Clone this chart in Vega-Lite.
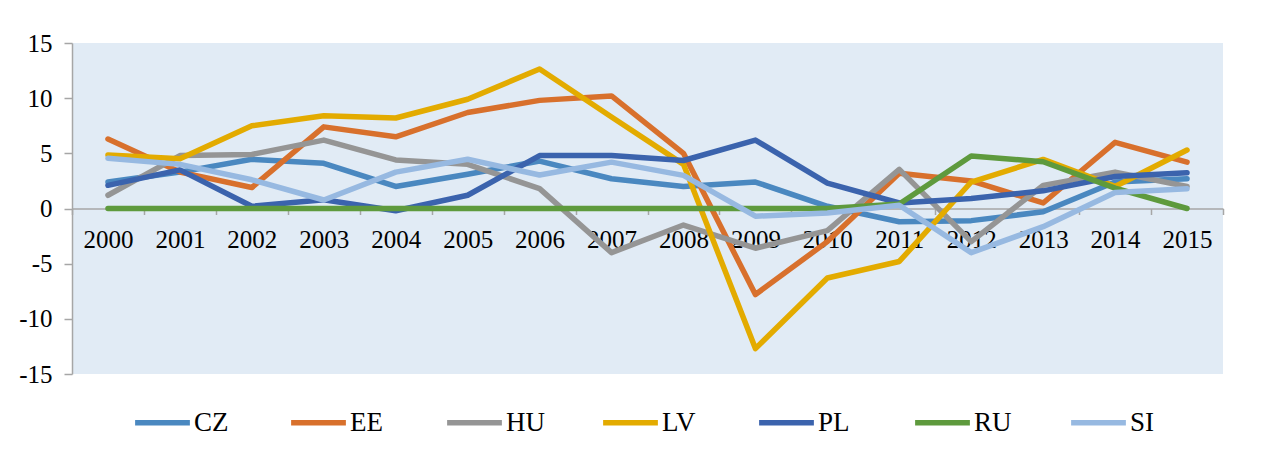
{
  "$schema": "https://vega.github.io/schema/vega-lite/v6.json",
  "autosize": {"type": "none"},
  "width": 1151,
  "height": 331,
  "padding": {"left": 72, "top": 43, "right": 51, "bottom": 87},
  "background": "white",
  "config": {
    "view": {"fill": "#E1EBF5", "stroke": null},
    "font": "Liberation Serif"
  },
  "data": {"values": [
    {"year":"2000","c":"CZ","v":2.4},{"year":"2001","c":"CZ","v":3.3},{"year":"2002","c":"CZ","v":4.46},{"year":"2003","c":"CZ","v":4.1},{"year":"2004","c":"CZ","v":2.0},{"year":"2005","c":"CZ","v":3.1},{"year":"2006","c":"CZ","v":4.3},{"year":"2007","c":"CZ","v":2.7},{"year":"2008","c":"CZ","v":2.0},{"year":"2009","c":"CZ","v":2.4},{"year":"2010","c":"CZ","v":0.2},{"year":"2011","c":"CZ","v":-1.2},{"year":"2012","c":"CZ","v":-1.1},{"year":"2013","c":"CZ","v":-0.3},{"year":"2014","c":"CZ","v":2.4},{"year":"2015","c":"CZ","v":2.7},
    {"year":"2000","c":"EE","v":6.3},{"year":"2001","c":"EE","v":3.3},{"year":"2002","c":"EE","v":1.9},{"year":"2003","c":"EE","v":7.4},{"year":"2004","c":"EE","v":6.5},{"year":"2005","c":"EE","v":8.7},{"year":"2006","c":"EE","v":9.8},{"year":"2007","c":"EE","v":10.2},{"year":"2008","c":"EE","v":5.0},{"year":"2009","c":"EE","v":-7.8},{"year":"2010","c":"EE","v":-3.0},{"year":"2011","c":"EE","v":3.2},{"year":"2012","c":"EE","v":2.5},{"year":"2013","c":"EE","v":0.5},{"year":"2014","c":"EE","v":6.0},{"year":"2015","c":"EE","v":4.2},
    {"year":"2000","c":"HU","v":1.2},{"year":"2001","c":"HU","v":4.8},{"year":"2002","c":"HU","v":4.9},{"year":"2003","c":"HU","v":6.2},{"year":"2004","c":"HU","v":4.4},{"year":"2005","c":"HU","v":4.0},{"year":"2006","c":"HU","v":1.8},{"year":"2007","c":"HU","v":-4.0},{"year":"2008","c":"HU","v":-1.5},{"year":"2009","c":"HU","v":-3.6},{"year":"2010","c":"HU","v":-2.0},{"year":"2011","c":"HU","v":3.55},{"year":"2012","c":"HU","v":-3.0},{"year":"2013","c":"HU","v":2.1},{"year":"2014","c":"HU","v":3.3},{"year":"2015","c":"HU","v":2.0},
    {"year":"2000","c":"LV","v":4.85},{"year":"2001","c":"LV","v":4.5},{"year":"2002","c":"LV","v":7.5},{"year":"2003","c":"LV","v":8.4},{"year":"2004","c":"LV","v":8.2},{"year":"2005","c":"LV","v":9.9},{"year":"2006","c":"LV","v":12.65},{"year":"2007","c":"LV","v":8.3},{"year":"2008","c":"LV","v":4.0},{"year":"2009","c":"LV","v":-12.7},{"year":"2010","c":"LV","v":-6.3},{"year":"2011","c":"LV","v":-4.8},{"year":"2012","c":"LV","v":2.4},{"year":"2013","c":"LV","v":4.45},{"year":"2014","c":"LV","v":2.0},{"year":"2015","c":"LV","v":5.3},
    {"year":"2000","c":"PL","v":2.1},{"year":"2001","c":"PL","v":3.5},{"year":"2002","c":"PL","v":0.2},{"year":"2003","c":"PL","v":0.8},{"year":"2004","c":"PL","v":-0.2},{"year":"2005","c":"PL","v":1.2},{"year":"2006","c":"PL","v":4.8},{"year":"2007","c":"PL","v":4.8},{"year":"2008","c":"PL","v":4.35},{"year":"2009","c":"PL","v":6.2},{"year":"2010","c":"PL","v":2.3},{"year":"2011","c":"PL","v":0.5},{"year":"2012","c":"PL","v":0.9},{"year":"2013","c":"PL","v":1.6},{"year":"2014","c":"PL","v":2.9},{"year":"2015","c":"PL","v":3.25},
    {"year":"2000","c":"RU","v":0},{"year":"2001","c":"RU","v":0},{"year":"2002","c":"RU","v":0},{"year":"2003","c":"RU","v":0},{"year":"2004","c":"RU","v":0},{"year":"2005","c":"RU","v":0},{"year":"2006","c":"RU","v":0},{"year":"2007","c":"RU","v":0},{"year":"2008","c":"RU","v":0},{"year":"2009","c":"RU","v":0},{"year":"2010","c":"RU","v":0},{"year":"2011","c":"RU","v":0.4},{"year":"2012","c":"RU","v":4.76},{"year":"2013","c":"RU","v":4.24},{"year":"2014","c":"RU","v":1.85},{"year":"2015","c":"RU","v":0},
    {"year":"2000","c":"SI","v":4.55},{"year":"2001","c":"SI","v":4.0},{"year":"2002","c":"SI","v":2.6},{"year":"2003","c":"SI","v":0.77},{"year":"2004","c":"SI","v":3.3},{"year":"2005","c":"SI","v":4.46},{"year":"2006","c":"SI","v":3.04},{"year":"2007","c":"SI","v":4.2},{"year":"2008","c":"SI","v":3.0},{"year":"2009","c":"SI","v":-0.7},{"year":"2010","c":"SI","v":-0.4},{"year":"2011","c":"SI","v":0.3},{"year":"2012","c":"SI","v":-4.0},{"year":"2013","c":"SI","v":-1.65},{"year":"2014","c":"SI","v":1.45},{"year":"2015","c":"SI","v":1.8}
  ]},
  "mark": {"type": "line", "strokeWidth": 5.5, "strokeCap": "round", "strokeJoin": "round"},
  "encoding": {
    "x": {
      "field": "year", "type": "ordinal",
      "scale": {"type": "band", "paddingInner": 0, "paddingOuter": 0},
      "axis": {
        "title": null, "orient": "bottom", "offset": -165.5,
        "labelAngle": 0, "labelFont": "Liberation Serif", "labelFontSize": 25, "labelColor": "#000000",
        "labelPadding": 13, "tickSize": 6, "tickBand": "extent",
        "domainColor": "#A6A6A6", "tickColor": "#A6A6A6", "domainWidth": 1.5, "tickWidth": 1.5
      }
    },
    "y": {
      "field": "v", "type": "quantitative",
      "scale": {"domain": [-15, 15], "nice": false, "zero": false},
      "axis": {
        "title": null, "values": [-15, -10, -5, 0, 5, 10, 15], "grid": false,
        "labelExpr": "'' + datum.value",
        "labelFont": "Liberation Serif", "labelFontSize": 25, "labelColor": "#000000",
        "labelPadding": 12, "tickSize": 8,
        "domainColor": "#A6A6A6", "tickColor": "#A6A6A6", "domainWidth": 1.5, "tickWidth": 1.5
      }
    },
    "color": {
      "field": "c", "type": "nominal",
      "scale": {
        "domain": ["CZ", "EE", "HU", "LV", "PL", "RU", "SI"],
        "range": ["#4A88C0", "#D8702C", "#959595", "#E3AB00", "#3B63AD", "#5E9A3D", "#97B9E1"]
      },
      "legend": {
        "title": null, "orient": "none", "legendX": 60, "legendY": 349,
        "direction": "horizontal", "columns": 7, "gridAlign": "all", "columnPadding": 47,
        "symbolType": "stroke", "symbolStrokeWidth": 5.5, "symbolSize": 3000,
        "labelFont": "Liberation Serif", "labelFontSize": 27, "labelColor": "#000000", "labelOffset": 1
      }
    }
  }
}
